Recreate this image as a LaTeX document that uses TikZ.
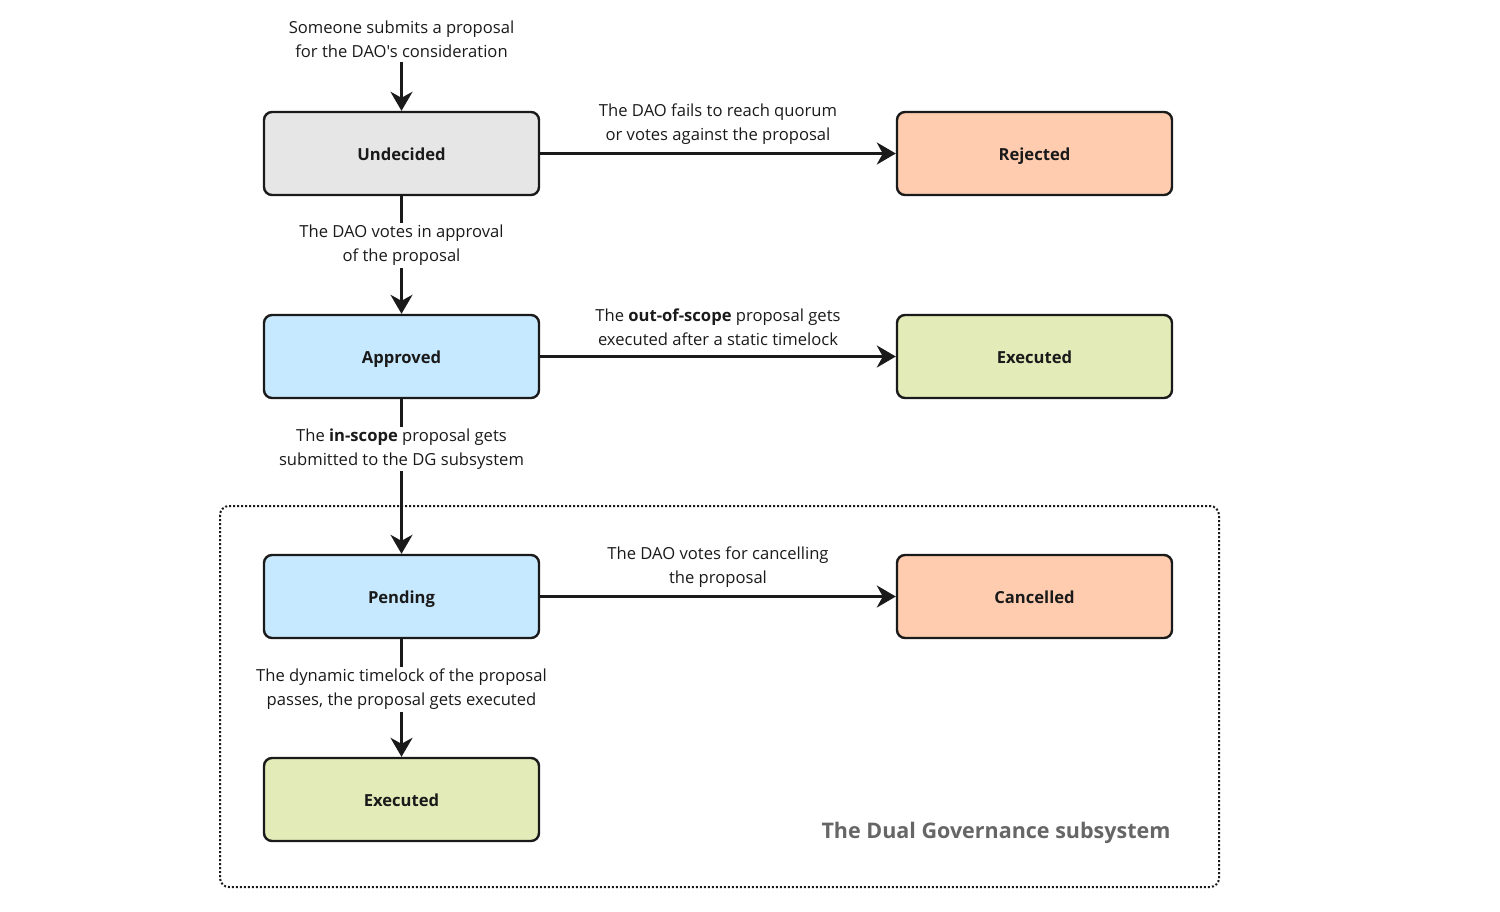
\documentclass[tikz,border=0pt]{standalone}
\usepackage{fontspec}
\setmainfont{Open Sans}[Ligatures=TeXOff]
\usetikzlibrary{arrows.meta}
\definecolor{grayfill}{HTML}{E6E6E6}
\definecolor{redfill}{HTML}{FFCCB0}
\definecolor{bluefill}{HTML}{C7E9FF}
\definecolor{greenfill}{HTML}{E3EBB8}
\definecolor{linecol}{HTML}{1A1A1A}
\definecolor{subgray}{HTML}{666666}
\tikzset{
  statebox/.style={draw=linecol, line width=2.4pt, rounded corners=8pt,
    minimum width=275pt, minimum height=83pt, inner sep=0pt,
    text height=14pt, text depth=1pt,
    font=\fontsize{16.6}{24}\selectfont\bfseries, text=linecol},
  arr/.style={draw=linecol, line width=3pt,
    -{Stealth[length=19pt,width=22pt,inset=6pt]}},
  lbl/.style={font=\fontsize{16.6}{24}\selectfont, align=center, text=linecol,
    fill=white, inner sep=2pt}
}
\begin{document}
\begin{tikzpicture}[x=1pt,y=-1pt]
\useasboundingbox (0,0) rectangle (1500,911);
% subsystem frame
\draw[linecol, line width=2pt, dash pattern=on 2pt off 2pt, rounded corners=9pt]
  (220,506) rectangle (1219,887);
\node[font=\fontsize{21.5}{25}\selectfont\bfseries, text=subgray, anchor=east] (dglabel)
  at (1174,833) {The Dual Governance subsystem};

\node[statebox, fill=grayfill] (und) at (401.5,153.5) {Undecided};
\node[statebox, fill=redfill] (rej) at (1034.5,153.5) {Rejected};
\node[statebox, fill=bluefill] (app) at (401.5,356.5) {Approved};
\node[statebox, fill=greenfill] (exr) at (1034.5,356.5) {Executed};
\node[statebox, fill=bluefill] (pen) at (401.5,596.5) {Pending};
\node[statebox, fill=redfill] (can) at (1034.5,596.5) {Cancelled};
\node[statebox, fill=greenfill] (exb) at (401.5,799.5) {Executed};

\node[lbl, fill=none] (sub) at (401.5,39) {Someone submits a proposal\\for the DAO's consideration};
\coordinate (start) at (401.5,62);
\draw[arr] (start) -- (und.north);

\draw[arr] (und.east) -- node[lbl, fill=none, yshift=29pt] {The DAO fails to reach quorum\\or votes against the proposal} (rej.west);
\draw[arr] (app.east) -- node[lbl, fill=none, yshift=29pt] {The \textbf{out-of-scope} proposal gets\\executed after a static timelock} (exr.west);
\draw[arr] (pen.east) -- node[lbl, fill=none, yshift=29pt] {The DAO votes for cancelling\\the proposal} (can.west);

\draw[arr] (und.south) -- node[lbl, pos=0.4, yshift=-2pt] {The DAO votes in approval\\of the proposal} (app.north);
\draw[arr] (app.south) -- node[lbl, pos=0.31, yshift=-2pt] {The \textbf{in-scope} proposal gets\\submitted to the DG subsystem} (pen.north);
\draw[arr] (pen.south) -- node[lbl, pos=0.41, yshift=-2pt] {The dynamic timelock of the proposal\\passes, the proposal gets executed} (exb.north);
\end{tikzpicture}
\end{document}
